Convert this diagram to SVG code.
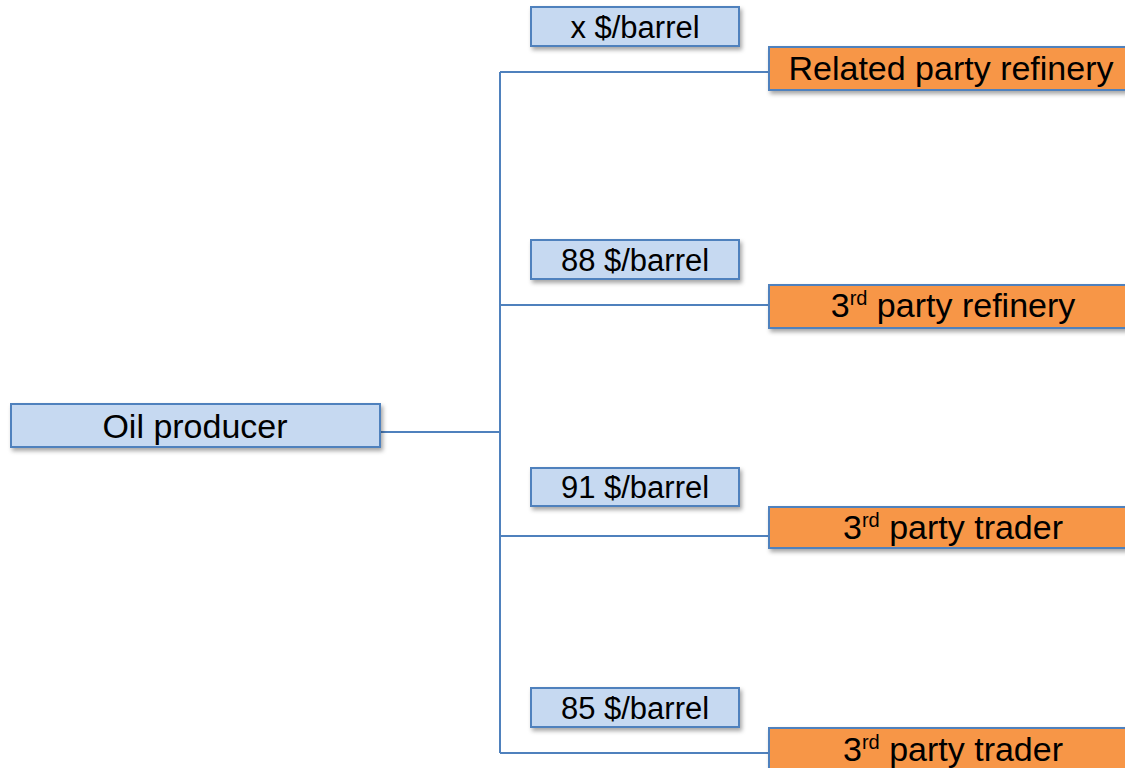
<svg xmlns="http://www.w3.org/2000/svg" width="1125" height="768" viewBox="0 0 1125 768">
<style>
.blue{fill:#C6D9F1;stroke:#4F81BD;stroke-width:2}
.orange{fill:#F79646;stroke:#4F81BD;stroke-width:2}
.t{font-family:"Liberation Sans",Arial,sans-serif;fill:#000;text-anchor:middle}
.big{font-size:34px}
.price{font-size:31px}
.sup{font-size:20px}
.conn{fill:none;stroke:#4F81BD;stroke-width:2}
</style>
<defs>
<filter id="sh" x="-10%" y="-30%" width="130%" height="180%">
<feDropShadow dx="2" dy="3" stdDeviation="2" flood-color="#000" flood-opacity="0.35"/>
</filter>
</defs>
<rect width="1125" height="768" fill="#fff"/>
<g id="connectors">
<path class="conn" d="M380,432 H500"/>
<path class="conn" d="M500,72 V753"/>
<path class="conn" d="M500,72 H769"/>
<path class="conn" d="M500,305 H769"/>
<path class="conn" d="M500,536 H769"/>
<path class="conn" d="M500,753 H769"/>
</g>
<g id="oil-producer">
<rect class="blue" x="11" y="404" width="369" height="43" filter="url(#sh)"/>
<text class="t big" x="195" y="438">Oil producer</text>
</g>
<g id="price-x">
<rect class="blue" x="531" y="7" width="208" height="39" filter="url(#sh)"/>
<text class="t price" x="635" y="38">x $/barrel</text>
</g>
<g id="related-refinery">
<rect class="orange" x="769" y="47" width="370" height="43" filter="url(#sh)"/>
<text class="t big" x="951" y="80">Related party refinery</text>
</g>
<g id="price-88">
<rect class="blue" x="531" y="240" width="208" height="39" filter="url(#sh)"/>
<text class="t price" x="635" y="271">88 $/barrel</text>
</g>
<g id="third-refinery">
<rect class="orange" x="769" y="285" width="370" height="43" filter="url(#sh)"/>
<text class="t big" x="953" y="317">3<tspan class="sup" dy="-12">rd</tspan><tspan dy="12"> party refinery</tspan></text>
</g>
<g id="price-91">
<rect class="blue" x="531" y="468" width="208" height="38" filter="url(#sh)"/>
<text class="t price" x="635" y="498">91 $/barrel</text>
</g>
<g id="third-trader-1">
<rect class="orange" x="769" y="507" width="370" height="41" filter="url(#sh)"/>
<text class="t big" x="953" y="539">3<tspan class="sup" dy="-12">rd</tspan><tspan dy="12"> party trader</tspan></text>
</g>
<g id="price-85">
<rect class="blue" x="531" y="688" width="208" height="39" filter="url(#sh)"/>
<text class="t price" x="635" y="719">85 $/barrel</text>
</g>
<g id="third-trader-2">
<rect class="orange" x="769" y="728" width="370" height="43" filter="url(#sh)"/>
<text class="t big" x="953" y="761">3<tspan class="sup" dy="-12">rd</tspan><tspan dy="12"> party trader</tspan></text>
</g>
</svg>
